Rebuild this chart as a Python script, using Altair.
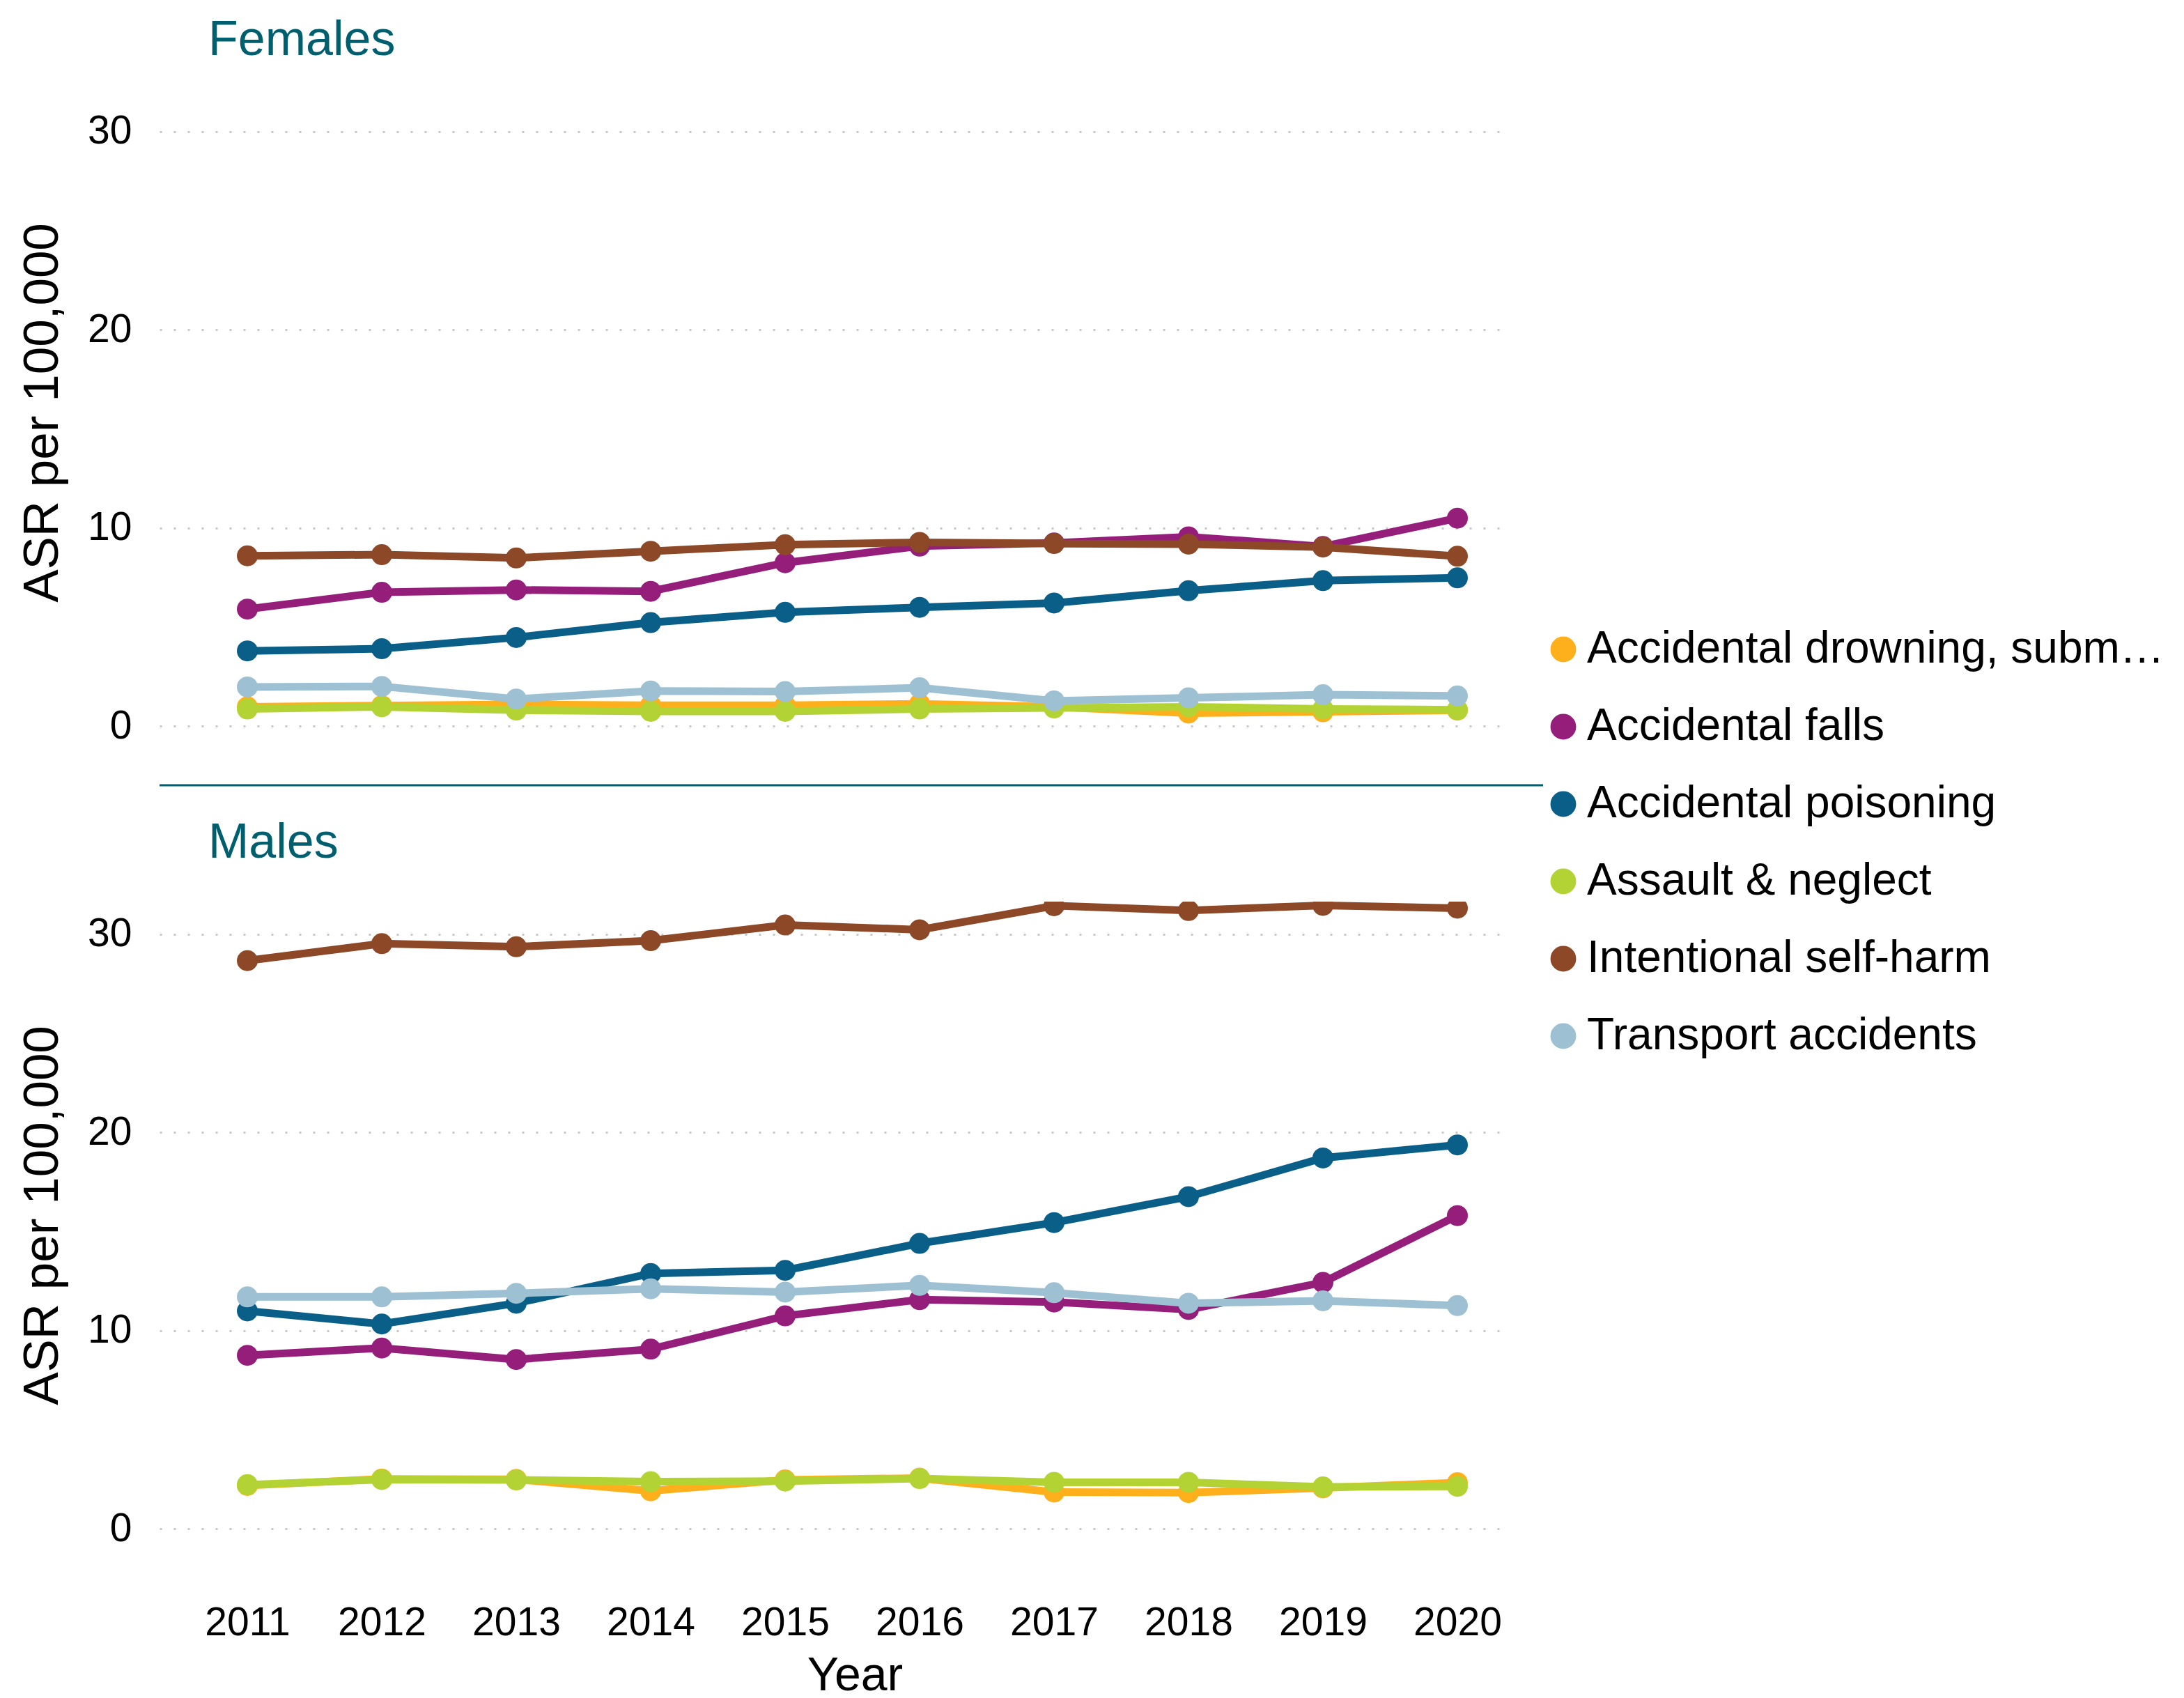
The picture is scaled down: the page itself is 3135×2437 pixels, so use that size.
import altair as alt
import pandas as pd

years = [2011, 2012, 2013, 2014, 2015, 2016, 2017, 2018, 2019, 2020]
causes = [
    "Accidental drowning, submersion",
    "Accidental falls",
    "Accidental poisoning",
    "Assault & neglect",
    "Intentional self-harm",
    "Transport accidents",
]
colors = ["#FDB01B", "#951E7B", "#0A5F88", "#B3D334", "#8C4827", "#9DC0D2"]

# Females
drowning_f = [0.97, 1.03, 1.09, 1.05, 1.05, 1.12, 0.97, 0.65, 0.72, 0.80]
falls_f = [5.90, 6.75, 6.87, 6.80, 8.24, 9.08, 9.24, 9.55, 9.06, 10.49]
poison_f = [3.79, 3.90, 4.47, 5.22, 5.74, 5.99, 6.21, 6.83, 7.34, 7.48]
assault_f = [0.86, 0.97, 0.80, 0.74, 0.74, 0.86, 0.91, 0.97, 0.86, 0.82]
selfharm_f = [8.59, 8.65, 8.48, 8.82, 9.15, 9.27, 9.21, 9.18, 9.03, 8.57]
transport_f = [1.97, 2.00, 1.36, 1.77, 1.74, 1.93, 1.27, 1.42, 1.58, 1.52]

# Males
drowning_m = [2.18, 2.51, 2.49, 1.91, 2.46, 2.55, 1.85, 1.82, 2.06, 2.32]
falls_m = [8.75, 9.12, 8.54, 9.06, 10.74, 11.56, 11.44, 11.06, 12.43, 15.80]
poison_m = [10.99, 10.33, 11.38, 12.88, 13.04, 14.40, 15.45, 16.76, 18.71, 19.37]
assault_m = [2.22, 2.48, 2.46, 2.37, 2.40, 2.53, 2.34, 2.34, 2.11, 2.14]
selfharm_m = [28.67, 29.53, 29.37, 29.68, 30.47, 30.23, 31.44, 31.20, 31.46, 31.32]
transport_m = [11.70, 11.70, 11.88, 12.11, 11.94, 12.28, 11.91, 11.38, 11.50, 11.26]

series = {
    "Females": [drowning_f, falls_f, poison_f, assault_f, selfharm_f, transport_f],
    "Males": [drowning_m, falls_m, poison_m, assault_m, selfharm_m, transport_m],
}
rows = []
for sex, lists in series.items():
    for cause, vals in zip(causes, lists):
        for yr, v in zip(years, vals):
            rows.append({"Sex": sex, "Cause": cause, "Year": yr, "Value": v})
df = pd.DataFrame(rows)

FONT = "Liberation Sans"
TEAL = "#005F6F"
W = 1929
H = 900
YMAX = 31.65

color = alt.Color(
    "Cause:N",
    scale=alt.Scale(domain=causes, range=colors),
    legend=alt.Legend(
        title=None,
        orient="none",
        legendX=1983,
        legendY=758,
        symbolType="circle",
        symbolSize=1250,
        labelFontSize=64,
        labelFont=FONT,
        labelColor="#000000",
        labelLimit=840,
        rowPadding=47,
        padding=0,
        labelOffset=2,
    ),
)


def panel(sex, show_x):
    base = alt.Chart(df).transform_filter(alt.datum.Sex == sex)
    if show_x:
        xaxis = alt.Axis(
            values=years, format="d", title="Year", grid=False, ticks=False,
            domain=False, labelFontSize=57, labelPadding=107, titleFontSize=68,
            titlePadding=14, titleX=998, labelFont=FONT, titleFont=FONT,
            titleFontWeight="normal", labelColor="#000000", titleColor="#000000",
        )
    else:
        xaxis = None
    x = alt.X("Year:Q", scale=alt.Scale(domain=[2010.347, 2020.342], nice=False, zero=False), axis=xaxis)
    y = alt.Y(
        "Value:Q",
        scale=alt.Scale(domain=[0, YMAX], nice=False, zero=False),
        axis=alt.Axis(
            values=[0, 10, 20, 30], title="ASR per 100,000", grid=True,
            gridDash=[3, 17], gridColor="#C8C8C8", gridWidth=3, ticks=False,
            domain=False, labelFontSize=57, labelPadding=40, titleFontSize=71,
            titlePadding=28, labelFont=FONT, titleFont=FONT,
            titleFontWeight="normal", labelColor="#000000", titleColor="#000000",
        ),
    )
    lines = base.mark_line(strokeWidth=11, clip=True).encode(x=x, y=y, color=color)
    pts = base.mark_circle(size=900, opacity=1, clip=True).encode(x=x, y=y, color=color)
    layers = [lines, pts]
    if not show_x:
        sep = alt.Chart(alt.Data(values=[{"a": 1}])).mark_rule(
            color=TEAL, strokeWidth=3, clip=False
        ).encode(x=alt.value(0), x2=alt.value(1986), y=alt.value(H + 85))
        layers.append(sep)
    return alt.layer(*layers).properties(
        width=W,
        height=H,
        title=alt.TitleParams(
            sex, anchor="start", frame="group", dx=70, fontSize=70, font=FONT,
            fontWeight="normal", color=TEAL, offset=48,
        ),
    )


chart = alt.vconcat(
    panel("Females", False), panel("Males", True), spacing=46
).properties(
    padding={"left": 17, "top": 15, "right": 5, "bottom": 0}
).configure(font=FONT).configure_view(
    strokeWidth=0, stroke="transparent"
)

chart.save("out.html", embed_options={"renderer": "svg", "actions": False})
